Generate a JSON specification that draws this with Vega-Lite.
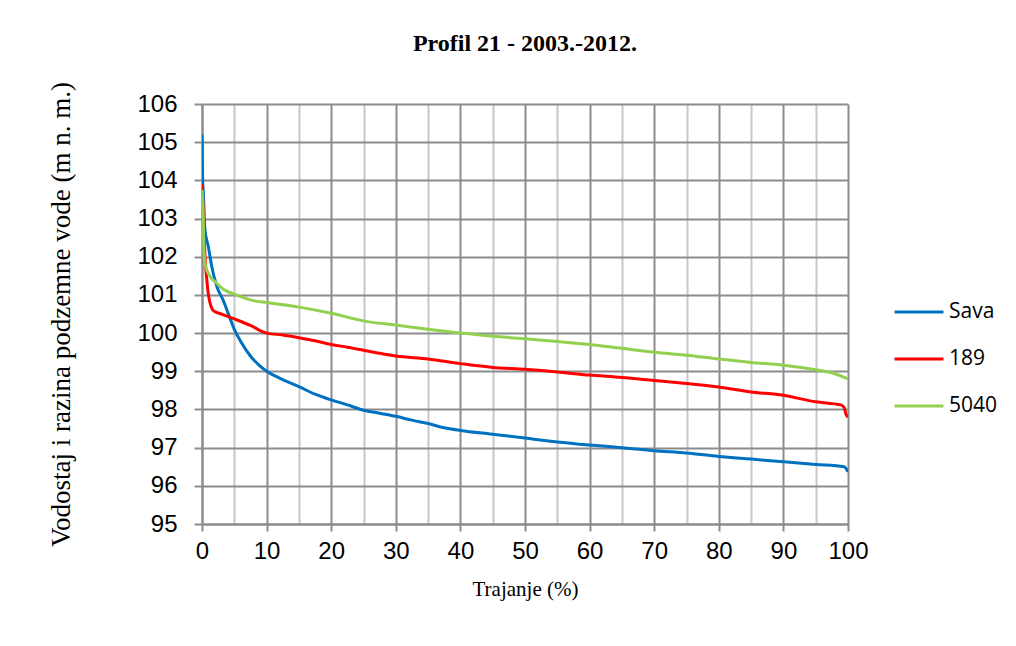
{
  "$schema": "https://vega.github.io/schema/vega-lite/v6.json",
  "width": 646,
  "height": 420,
  "autosize": {"type": "none"},
  "padding": {"left": 202, "top": 104, "right": 168, "bottom": 122},
  "background": "white",
  "title": {
    "text": "Profil 21 - 2003.-2012.",
    "font": "Liberation Serif",
    "fontSize": 24,
    "fontWeight": "bold",
    "color": "black",
    "anchor": "middle",
    "offset": 25
  },
  "config": {
    "view": {"stroke": null},
    "axis": {
      "labelFont": "Liberation Sans",
      "labelFontSize": 24,
      "labelColor": "black",
      "titleColor": "black",
      "domainColor": "#8c8c8c",
      "domainWidth": 2,
      "tickColor": "#8c8c8c",
      "tickWidth": 2,
      "gridWidth": 2
    }
  },
  "data": {
    "values": [
      {"s": "Sava", "x": 0, "y": 105.2},
      {"s": "Sava", "x": 0.1, "y": 104.0},
      {"s": "Sava", "x": 0.2, "y": 103.7},
      {"s": "Sava", "x": 0.46, "y": 102.7},
      {"s": "Sava", "x": 1.0, "y": 102.25},
      {"s": "Sava", "x": 1.5, "y": 101.75},
      {"s": "Sava", "x": 2.3, "y": 101.22},
      {"s": "Sava", "x": 3.3, "y": 100.85},
      {"s": "Sava", "x": 4.2, "y": 100.45},
      {"s": "Sava", "x": 5, "y": 100.1},
      {"s": "Sava", "x": 6, "y": 99.78},
      {"s": "Sava", "x": 7.4, "y": 99.42},
      {"s": "Sava", "x": 8.7, "y": 99.18},
      {"s": "Sava", "x": 10, "y": 99.0},
      {"s": "Sava", "x": 12, "y": 98.82},
      {"s": "Sava", "x": 15, "y": 98.6},
      {"s": "Sava", "x": 17.5, "y": 98.4},
      {"s": "Sava", "x": 20, "y": 98.25},
      {"s": "Sava", "x": 22.5, "y": 98.12},
      {"s": "Sava", "x": 25, "y": 97.98},
      {"s": "Sava", "x": 27.5, "y": 97.9},
      {"s": "Sava", "x": 30, "y": 97.82},
      {"s": "Sava", "x": 32.5, "y": 97.72},
      {"s": "Sava", "x": 35, "y": 97.63},
      {"s": "Sava", "x": 37.5, "y": 97.52},
      {"s": "Sava", "x": 40, "y": 97.45},
      {"s": "Sava", "x": 45, "y": 97.35},
      {"s": "Sava", "x": 50, "y": 97.25},
      {"s": "Sava", "x": 55, "y": 97.15},
      {"s": "Sava", "x": 60, "y": 97.07},
      {"s": "Sava", "x": 65, "y": 97.0},
      {"s": "Sava", "x": 70, "y": 96.92},
      {"s": "Sava", "x": 75, "y": 96.86},
      {"s": "Sava", "x": 80, "y": 96.77},
      {"s": "Sava", "x": 85, "y": 96.7},
      {"s": "Sava", "x": 90, "y": 96.63},
      {"s": "Sava", "x": 95, "y": 96.56},
      {"s": "Sava", "x": 99.4, "y": 96.5},
      {"s": "Sava", "x": 100, "y": 96.37},
      {"s": "189", "x": 0, "y": 103.9},
      {"s": "189", "x": 0.2, "y": 103.2},
      {"s": "189", "x": 0.46, "y": 102.0},
      {"s": "189", "x": 0.7, "y": 101.48},
      {"s": "189", "x": 1.0, "y": 101.0},
      {"s": "189", "x": 1.8, "y": 100.58},
      {"s": "189", "x": 3, "y": 100.5},
      {"s": "189", "x": 5, "y": 100.37},
      {"s": "189", "x": 7.5, "y": 100.2},
      {"s": "189", "x": 10, "y": 100.0},
      {"s": "189", "x": 12.5, "y": 99.95},
      {"s": "189", "x": 15, "y": 99.88},
      {"s": "189", "x": 17.5, "y": 99.8},
      {"s": "189", "x": 20, "y": 99.7},
      {"s": "189", "x": 22.5, "y": 99.63},
      {"s": "189", "x": 25, "y": 99.55},
      {"s": "189", "x": 27.5, "y": 99.47},
      {"s": "189", "x": 30, "y": 99.4},
      {"s": "189", "x": 35, "y": 99.32},
      {"s": "189", "x": 40, "y": 99.2},
      {"s": "189", "x": 45, "y": 99.1},
      {"s": "189", "x": 50, "y": 99.05},
      {"s": "189", "x": 55, "y": 98.98},
      {"s": "189", "x": 60, "y": 98.9},
      {"s": "189", "x": 65, "y": 98.84},
      {"s": "189", "x": 70, "y": 98.76},
      {"s": "189", "x": 75, "y": 98.68},
      {"s": "189", "x": 80, "y": 98.59},
      {"s": "189", "x": 85, "y": 98.46},
      {"s": "189", "x": 90, "y": 98.37},
      {"s": "189", "x": 95, "y": 98.2},
      {"s": "189", "x": 98.9, "y": 98.12},
      {"s": "189", "x": 99.4, "y": 98.05},
      {"s": "189", "x": 99.7, "y": 97.87},
      {"s": "189", "x": 100, "y": 97.8},
      {"s": "5040", "x": 0, "y": 103.75},
      {"s": "5040", "x": 0.2, "y": 103.0},
      {"s": "5040", "x": 0.3, "y": 102.17},
      {"s": "5040", "x": 0.46, "y": 101.82},
      {"s": "5040", "x": 1.24, "y": 101.48},
      {"s": "5040", "x": 2, "y": 101.35},
      {"s": "5040", "x": 3.3, "y": 101.15},
      {"s": "5040", "x": 5, "y": 101.02},
      {"s": "5040", "x": 8, "y": 100.85},
      {"s": "5040", "x": 10, "y": 100.8},
      {"s": "5040", "x": 15, "y": 100.68},
      {"s": "5040", "x": 20, "y": 100.52},
      {"s": "5040", "x": 25, "y": 100.32},
      {"s": "5040", "x": 30, "y": 100.21},
      {"s": "5040", "x": 35, "y": 100.1},
      {"s": "5040", "x": 40, "y": 100.0},
      {"s": "5040", "x": 45, "y": 99.92},
      {"s": "5040", "x": 50, "y": 99.85},
      {"s": "5040", "x": 55, "y": 99.78},
      {"s": "5040", "x": 60, "y": 99.7},
      {"s": "5040", "x": 65, "y": 99.6},
      {"s": "5040", "x": 70, "y": 99.5},
      {"s": "5040", "x": 75, "y": 99.42},
      {"s": "5040", "x": 80, "y": 99.32},
      {"s": "5040", "x": 85, "y": 99.23},
      {"s": "5040", "x": 90, "y": 99.16},
      {"s": "5040", "x": 95, "y": 99.04},
      {"s": "5040", "x": 97.5, "y": 98.96},
      {"s": "5040", "x": 100, "y": 98.8}
    ]
  },
  "mark": {"type": "line", "strokeWidth": 3, "clip": true, "interpolate": "monotone"},
  "encoding": {
    "x": {
      "field": "x",
      "type": "quantitative",
      "scale": {"domain": [0, 100], "nice": false},
      "axis": {
        "title": "Trajanje (%)",
        "titleFont": "Liberation Serif",
        "titleFontSize": 21,
        "titleFontWeight": "normal",
        "titlePadding": 15,
        "values": [0, 5, 10, 15, 20, 25, 30, 35, 40, 45, 50, 55, 60, 65, 70, 75, 80, 85, 90, 95, 100],
        "labelExpr": "datum.value % 10 === 0 ? datum.label : ''",
        "labelFlush": false,
        "labelPadding": 8,
        "tickSize": 7,
        "tickOpacity": {"condition": {"test": "datum.value % 10 === 0", "value": 1}, "value": 0},
        "gridColor": {"condition": {"test": "datum.value % 10 === 0", "value": "#8c8c8c"}, "value": "#c8c8c8"},
        "grid": true
      }
    },
    "y": {
      "field": "y",
      "type": "quantitative",
      "scale": {"domain": [95, 106], "nice": false, "zero": false},
      "axis": {
        "title": "Vodostaj i razina podzemne vode (m n. m.)",
        "titleFont": "Liberation Serif",
        "titleFontSize": 27,
        "titleFontWeight": "normal",
        "titleX": -127,
        "values": [95, 96, 97, 98, 99, 100, 101, 102, 103, 104, 105, 106],
        "tickSize": 8,
        "labelPadding": 17,
        "labelFlush": false,
        "gridColor": "#8c8c8c",
        "grid": true
      }
    },
    "color": {
      "field": "s",
      "type": "nominal",
      "scale": {"domain": ["Sava", "189", "5040"], "range": ["#0070C0", "#FF0000", "#92D050"]},
      "legend": {
        "title": null,
        "orient": "none",
        "legendX": 691,
        "legendY": 182,
        "symbolType": "stroke",
        "symbolSize": 2400,
        "symbolStrokeWidth": 3,
        "labelFont": "Open Sans",
        "labelFontSize": 21,
        "labelColor": "black",
        "labelOffset": 4,
        "rowPadding": 11
      }
    }
  }
}
